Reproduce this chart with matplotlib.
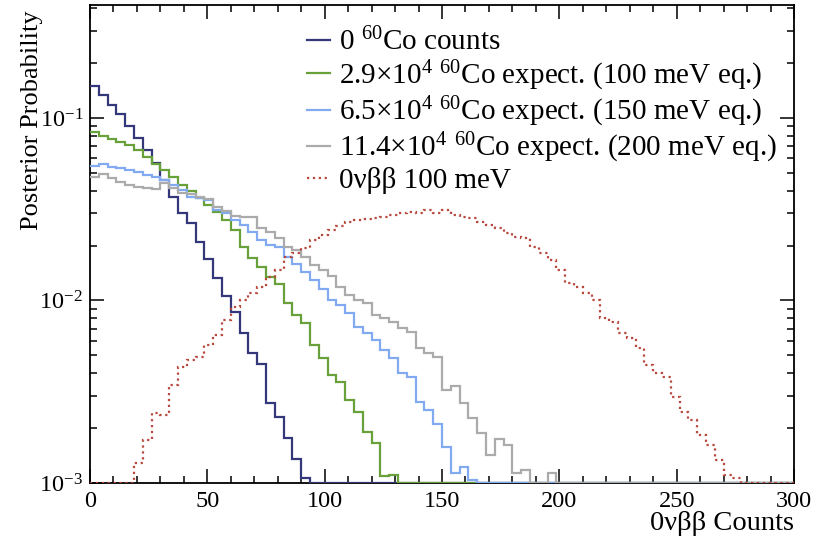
import numpy as np
import matplotlib
matplotlib.use("Agg")
import matplotlib.pyplot as plt
from matplotlib.ticker import MultipleLocator, LogLocator, NullFormatter

plt.rcParams['font.family'] = ['Liberation Serif', 'DejaVu Serif']
plt.rcParams['mathtext.fontset'] = 'custom'
plt.rcParams['mathtext.rm'] = 'Liberation Serif'
plt.rcParams['mathtext.it'] = 'Liberation Serif:italic'

# 80 bins of width 3.75 over 0..300
edges = np.linspace(0, 300, 81)

# posterior probability per bin (0 = empty bin)
co_zero = [0.150, 0.134, 0.118, 0.105, 0.0904, 0.0777, 0.0668, 0.0567, 0.0457, 0.0370,
           0.0300, 0.0265, 0.0210, 0.0168, 0.0132, 0.0106, 0.00868, 0.00661, 0.00514, 0.00449,
           0.00275, 0.00231, 0.00176, 0.00135, 0.00106] + [0] * 55

co_100 = [0.0835, 0.0800, 0.0767, 0.0739, 0.0707, 0.0668, 0.0611, 0.0560, 0.0519, 0.0475,
          0.0429, 0.0398, 0.0364, 0.0334, 0.0305, 0.0276, 0.0243, 0.0196, 0.0171, 0.0153,
          0.0135, 0.0123, 0.00969, 0.00833, 0.00753, 0.00571, 0.00484, 0.00391, 0.00358, 0.00285,
          0.00245, 0.00190, 0.00166, 0.00109, 0.00111] + [0] * 45

co_150 = [0.0546, 0.0558, 0.0541, 0.0530, 0.0519, 0.0508, 0.0487, 0.0477, 0.0457, 0.0429,
          0.0403, 0.0370, 0.0363, 0.0355, 0.0313, 0.0300, 0.0276, 0.0259, 0.0238, 0.0215,
          0.0201, 0.0197, 0.0174, 0.0158, 0.0143, 0.0130, 0.0116, 0.0101, 0.00945, 0.00851,
          0.00719, 0.00661, 0.00608, 0.00536, 0.00482, 0.00399, 0.00382, 0.00279, 0.00251, 0.00210,
          0.00158, 0.00113, 0.00122, 0.00104] + [0] * 36

co_200 = [0.0477, 0.0493, 0.0469, 0.0446, 0.0429, 0.0420, 0.0412, 0.0407, 0.0440, 0.0413,
          0.0388, 0.0383, 0.0369, 0.0360, 0.0327, 0.0309, 0.0290, 0.0287, 0.0287, 0.0249,
          0.0238, 0.0219, 0.0197, 0.0189, 0.0174, 0.0157, 0.0147, 0.0136, 0.0119, 0.0107,
          0.0101, 0.00965, 0.00833, 0.00799, 0.00765, 0.00704, 0.00675, 0.00547, 0.00514, 0.00490,
          0.00323, 0.00340, 0.00273, 0.00226, 0.00187, 0.00142, 0.00174, 0.00162, 0.00113, 0.00118,
          0, 0, 0.00113] + [0] * 27

nbb_100 = [0, 0, 0, 0, 0, 0.00128, 0.00172, 0.00241, 0.00236, 0.00344,
           0.00434, 0.00472, 0.00492, 0.00571, 0.00647, 0.00782, 0.00925, 0.0101, 0.0110, 0.0119,
           0.0135, 0.0147, 0.0173, 0.0182, 0.0194, 0.0215, 0.0229, 0.0243, 0.0256, 0.0270,
           0.0276, 0.0280, 0.0282, 0.0288, 0.0294, 0.0300, 0.0307, 0.0300, 0.0313, 0.0300,
           0.0313, 0.0294, 0.0288, 0.0282, 0.0270, 0.0259, 0.0249, 0.0233, 0.0224, 0.0219,
           0.0197, 0.0181, 0.0167, 0.0147, 0.0124, 0.0119, 0.0110, 0.0101, 0.00799, 0.00765,
           0.00661, 0.00621, 0.00547, 0.00443, 0.00399, 0.00382, 0.00297, 0.00246, 0.00221, 0.00183,
           0.00162, 0.00134, 0.00111, 0.00106] + [0] * 6

labels = ["0 $^{60}$Co counts",
          "2.9\u00d710$^{4}$ $^{60}$Co expect. (100 meV eq.)",
          "6.5\u00d710$^{4}$ $^{60}$Co expect. (150 meV eq.)",
          "11.4\u00d710$^{4}$ $^{60}$Co expect. (200 meV eq.)",
          "0\u03bd\u03b2\u03b2 100 meV"]
colors = ["#34377a", "#68a03a", "#82aaf0", "#ababab", "#b8483e"]
styles = ["-", "-", "-", "-", ":"]

ymin, ymax = 1e-3, 0.416

fig = plt.figure(figsize=(8.13, 5.40), dpi=100)
ax = fig.add_axes([90 / 813, 57 / 540, 704 / 813, 478 / 540])

for vals, lab, c, ls in zip([co_zero, co_100, co_150, co_200, nbb_100], labels, colors, styles):
    v = np.maximum(np.array(vals, dtype=float), ymin)  # empty bins sit on the frame like ROOT
    ax.stairs(v, edges, color=c, linestyle=ls, lw=1.6, label=lab, zorder=3, baseline=None)

ax.set_yscale('log')
ax.set_xlim(0, 300)
ax.set_ylim(ymin, ymax)

ax.xaxis.set_major_locator(MultipleLocator(50))
ax.xaxis.set_minor_locator(MultipleLocator(10))
ax.yaxis.set_minor_locator(LogLocator(base=10, subs=np.arange(2, 10), numticks=20))
ax.yaxis.set_minor_formatter(NullFormatter())
ax.set_yticks([1e-3, 1e-2, 1e-1])
ax.set_yticklabels([r"$10^{-3}$", r"$10^{-2}$", r"$10^{-1}$"])

ax.tick_params(which='both', direction='in', top=True, right=True, width=1.1, labelsize=17.5)
ax.tick_params(which='major', length=10)
ax.tick_params(axis='x', which='major', pad=6)
ax.tick_params(axis='y', which='major', pad=5)
ax.tick_params(which='minor', length=5)
for sp in ax.spines.values():
    sp.set_linewidth(1.3)

fig.text(0.039, 0.980, "Posterior Probability", rotation=90, ha='center', va='top', fontsize=19)
fig.text(794 / 813, 0.008, "0\u03bd\u03b2\u03b2 Counts", ha='right', va='bottom', fontsize=20.5)

ax.legend(loc='upper left', bbox_to_anchor=(307 / 813, 1 - 28 / 540), bbox_transform=fig.transFigure,
          frameon=False, fontsize=21, handlelength=0.8, handletextpad=0.3,
          labelspacing=0.07, borderpad=0, borderaxespad=0)

fig.savefig("out.png", dpi=100)
